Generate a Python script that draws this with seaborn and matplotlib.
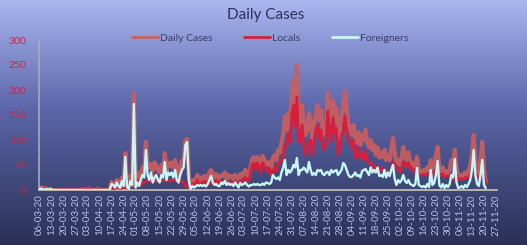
import numpy as np
import pandas as pd
import matplotlib
matplotlib.use("Agg")
import matplotlib.pyplot as plt
import seaborn as sns

START_DATE = "2020-03-06"
TICK_END_DATE = "2020-11-27"

daily_cases = [
    2, 5, 1, 4, 3, 0, 2,
    1, 0, 0, 0, 0, 0, 0,
    0, 0, 0, 0, 0, 0, 0,
    0, 0, 0, 0, 0, 2, 0,
    0, 3, 0, 0, 0, 0, 3,
    0, 0, 0, 0, 0, 0, 2,
    16, 12, 8, 20, 14, 6, 25,
    12, 74, 10, 5, 28, 18, 192,
    15, 35, 20, 28, 45, 40, 96,
    50, 45, 52, 38, 55, 48, 40,
    35, 50, 45, 74, 40, 55, 48,
    55, 45, 60, 40, 30, 50, 58,
    60, 98, 102, 30, 5, 20, 15,
    22, 30, 18, 25, 20, 28, 22,
    28, 35, 40, 30, 25, 32, 22,
    25, 30, 28, 35, 22, 30, 25,
    28, 22, 30, 26, 20, 32, 28,
    34, 40, 30, 25, 45, 62, 66,
    50, 66, 58, 45, 68, 60, 55,
    50, 56, 45, 64, 70, 60, 80,
    75, 95, 110, 148, 120, 154, 130,
    190, 220, 170, 250, 124, 140, 170,
    130, 110, 120, 154, 140, 100, 130,
    150, 170, 140, 160, 120, 110, 130,
    194, 150, 136, 180, 150, 164, 100,
    120, 150, 170, 198, 160, 130, 124,
    110, 130, 100, 94, 115, 90, 110,
    100, 120, 95, 85, 100, 80, 90,
    70, 85, 65, 75, 66, 80, 60,
    70, 60, 80, 104, 75, 54, 60,
    50, 65, 86, 70, 60, 75, 55,
    55, 45, 50, 66, 40, 38, 35,
    40, 35, 45, 38, 60, 42, 50,
    70, 86, 40, 35, 45, 30, 38,
    34, 40, 60, 55, 80, 45, 26,
    28, 30, 25, 35, 30, 38, 50,
    70, 110, 60, 40, 30, 60, 96,
    40, 16,
]

locals_cases = [
    0, 2, 0, 3, 1, 0, 0,
    0, 0, 0, 0, 0, 0, 0,
    0, 0, 0, 0, 0, 0, 0,
    0, 0, 0, 0, 0, 2, 0,
    0, 3, 0, 0, 0, 0, 3,
    0, 0, 0, 0, 0, 0, 1,
    4, 2, 3, 5, 6, 2, 7,
    4, 8, 4, 3, 10, 8, 20,
    10, 20, 12, 8, 15, 15, 16,
    20, 25, 17, 23, 30, 18, 20,
    20, 20, 20, 18, 20, 20, 18,
    20, 20, 20, 20, 15, 20, 18,
    15, 8, 6, 10, 3, 12, 10,
    15, 20, 10, 15, 12, 18, 15,
    16, 15, 12, 15, 15, 20, 14,
    17, 15, 16, 17, 12, 16, 15,
    16, 14, 15, 16, 15, 18, 18,
    22, 25, 20, 18, 35, 52, 54,
    40, 54, 48, 35, 55, 50, 40,
    36, 44, 30, 34, 45, 38, 55,
    55, 60, 65, 88, 90, 114, 95,
    150, 170, 125, 186, 94, 100, 130,
    85, 70, 85, 98, 100, 70, 96,
    120, 130, 102, 120, 88, 80, 95,
    158, 120, 96, 145, 112, 124, 70,
    85, 110, 116, 148, 120, 100, 98,
    84, 100, 65, 66, 85, 65, 72,
    60, 78, 59, 55, 55, 45, 50,
    35, 40, 37, 45, 40, 40, 35,
    35, 32, 40, 56, 53, 44, 40,
    35, 45, 56, 52, 46, 55, 43,
    45, 37, 38, 22, 30, 30, 29,
    32, 30, 33, 32, 20, 32, 36,
    40, 28, 30, 30, 33, 26, 28,
    28, 28, 30, 30, 18, 30, 22,
    23, 22, 21, 25, 24, 26, 30,
    30, 30, 30, 28, 22, 30, 36,
    30, 12,
]

foreigners_cases = [
    2, 3, 1, 1, 2, 0, 2,
    1, 0, 0, 0, 0, 0, 0,
    0, 0, 0, 0, 0, 0, 0,
    0, 0, 0, 0, 0, 0, 0,
    0, 0, 0, 0, 0, 0, 0,
    0, 0, 0, 0, 0, 0, 1,
    12, 10, 5, 15, 8, 4, 18,
    8, 66, 6, 2, 18, 10, 172,
    5, 15, 8, 20, 30, 25, 80,
    30, 20, 35, 15, 25, 30, 20,
    15, 30, 25, 56, 20, 35, 30,
    35, 25, 40, 20, 15, 30, 40,
    45, 90, 96, 20, 2, 8, 5,
    7, 10, 8, 10, 8, 10, 7,
    12, 20, 28, 15, 10, 12, 8,
    8, 15, 12, 18, 10, 14, 10,
    12, 8, 15, 10, 5, 14, 10,
    12, 15, 10, 7, 10, 10, 12,
    10, 12, 10, 10, 13, 10, 15,
    14, 12, 15, 30, 25, 22, 25,
    20, 35, 45, 60, 30, 40, 35,
    40, 50, 45, 64, 30, 40, 40,
    45, 40, 35, 56, 40, 30, 34,
    30, 40, 38, 40, 32, 30, 35,
    36, 30, 40, 35, 38, 40, 30,
    35, 40, 54, 50, 40, 30, 26,
    26, 30, 35, 28, 30, 25, 38,
    40, 42, 36, 30, 45, 35, 40,
    35, 45, 28, 30, 26, 40, 25,
    35, 28, 40, 50, 22, 10, 20,
    15, 20, 30, 18, 14, 20, 12,
    10, 8, 12, 44, 10, 8, 6,
    8, 5, 12, 6, 40, 10, 14,
    30, 58, 10, 5, 12, 4, 10,
    6, 12, 30, 25, 62, 15, 4,
    5, 8, 4, 10, 6, 12, 20,
    40, 80, 30, 12, 8, 30, 60,
    10, 4,
]

series_names = ["Daily Cases", "Locals", "Foreigners"]

# ---------------------------------------------------------------
sns.set_theme(style="white")
plt.rcParams["font.family"] = ["Lato", "DejaVu Sans"]

W, H, DPI = 527, 245, 100
fig = plt.figure(figsize=(W / DPI, H / DPI), dpi=DPI)

# gradient background
bg = fig.add_axes([0, 0, 1, 1], zorder=-10)
top = np.array([0xab, 0xb7, 0xf1]) / 255
mid = np.array([0x5a, 0x66, 0xa8]) / 255
bot = np.array([0x2a, 0x30, 0x55]) / 255
t = np.linspace(0, 1, 256)[:, None]
grad = np.where(t < 0.45, top + (mid - top) * (t / 0.45),
                mid + (bot - mid) * ((t - 0.45) / 0.55))
img = np.repeat(grad[:, None, :], 4, axis=1)
bg.imshow(img, aspect="auto", extent=[0, 1, 0, 1], origin="upper")
bg.set_axis_off()

ax = fig.add_axes([39 / W, 55 / H, (497 - 39) / W, 150 / H])
ax.patch.set_alpha(0)

n = len(daily_cases)
dates = pd.date_range(START_DATE, periods=n, freq="D")
day = np.arange(n)
df = pd.DataFrame({"day": day, "Daily Cases": daily_cases,
                   "Locals": locals_cases, "Foreigners": foreigners_cases})

sns.lineplot(data=df, x="day", y="Daily Cases", ax=ax, color="#cc5e5e",
             linewidth=3.0, alpha=0.9, label=series_names[0], zorder=2)
sns.lineplot(data=df, x="day", y="Locals", ax=ax, color="#d81e3c",
             linewidth=2.0, label=series_names[1], zorder=3)
sns.lineplot(data=df, x="day", y="Foreigners", ax=ax, color="#c6f7f6",
             linewidth=1.7, label=series_names[2], zorder=4)

tick_dates = pd.date_range(START_DATE, TICK_END_DATE, freq="7D")
tick_pos = [(d - dates[0]).days for d in tick_dates]
ax.set_xticks(tick_pos)
ax.set_xticklabels([d.strftime("%d-%m-%y") for d in tick_dates],
                   rotation=90, fontsize=7, color="#b9c0ea")
ax.set_xlim(-0.3, tick_pos[-1] + 0.6)
ax.set_ylim(0, 300)
ax.set_yticks([0, 50, 100, 150, 200, 250, 300])
ax.tick_params(axis="y", labelsize=7.5, colors="#d8203f", length=0, pad=9)
ax.tick_params(axis="x", length=0, pad=3)
ax.set_xlabel("")
ax.set_ylabel("")

for s in ["top", "right"]:
    ax.spines[s].set_visible(False)
ax.spines["left"].set_color("#a7aac2")
ax.spines["left"].set_linewidth(1.2)
ax.spines["bottom"].set_color("#cfc6b8")
ax.spines["bottom"].set_linewidth(1.2)

leg = ax.legend(loc="center", bbox_to_anchor=(0.505, (H - 38 - 55) / 150),
                ncol=3, frameon=False, fontsize=7.5, handlelength=2.5,
                handletextpad=0.2, columnspacing=3.0, labelcolor="#3b4064")
for h in leg.get_lines():
    h.set_linewidth(2.0)
    h.set_alpha(1)

fig.text(0.505, 1 - 15 / H, "Daily Cases", ha="center", va="center",
         fontsize=11, color="#2b3158")

fig.savefig("out.png", dpi=DPI)
